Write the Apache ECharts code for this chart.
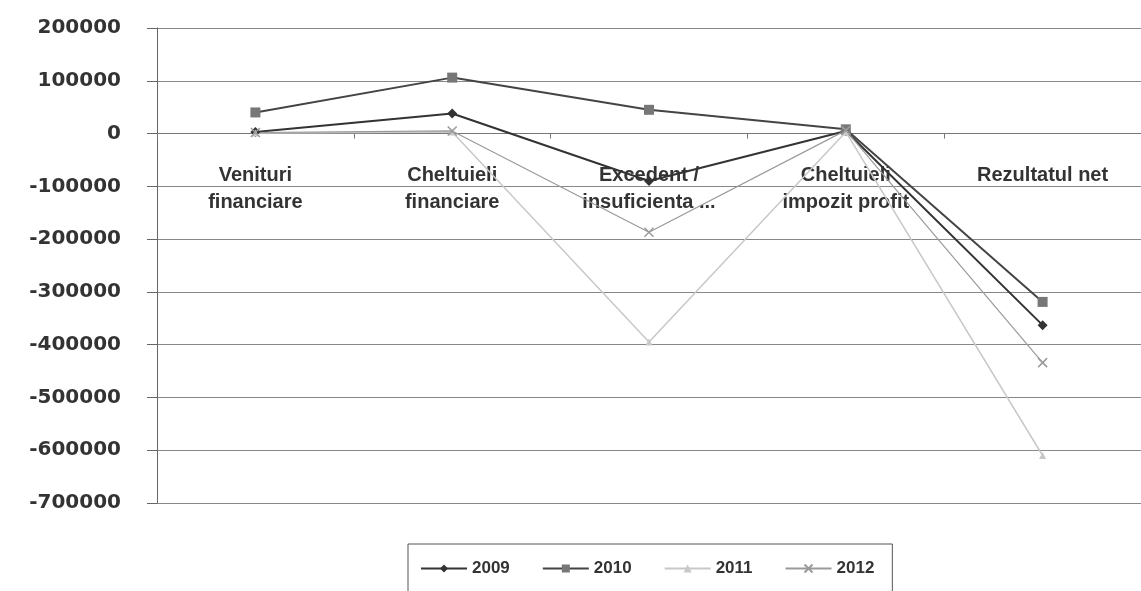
<!DOCTYPE html>
<html>
<head>
<meta charset="utf-8">
<script src="https://cdn.jsdelivr.net/npm/echarts@6/dist/echarts.min.js"></script>
<style>
  html, body { margin: 0; padding: 0; background: #fff; }
</style>
</head>
<body>
<div id="chart" style="width: 1141px; height: 591px;"></div>
<script>
const categories = ['Venituri\nfinanciare', 'Cheltuieli\nfinanciare', 'Excedent /\ninsuficienta ...', 'Cheltuieli\nimpozit profit', 'Rezultatul net'];
const years = ['2009', '2010', '2011', '2012'];
const values2009 = [3000, 38000, -90000, 5000, -363000];
const values2010 = [40000, 106000, 45000, 8000, -319000];
const values2011 = [1000, 3000, -395000, 3000, -610000];
const values2012 = [2000, 5000, -187000, 6000, -434000];

const chartDom = document.getElementById('chart');
const myChart = echarts.init(chartDom);

const labelFont = '"Liberation Sans Narrow", "Liberation Sans", Arial, sans-serif';
const gridTop = 28;
const gridBottom = 88;
const yMin = -700000;
const yMax = 200000;
// move the category axis up to the zero line
const plotHeight = 591 - gridTop - gridBottom;
const zeroOffset = -plotHeight * (0 - yMin) / (yMax - yMin);

const option = {
  animation: false,
  backgroundColor: '#fff',
  grid: {
    left: 157,
    right: -11,
    top: gridTop,
    bottom: gridBottom
  },
  legend: {
    bottom: -6,
    left: 408,
    itemWidth: 46,
    itemHeight: 10,
    itemGap: 32,
    padding: [16, 18, 20, 12],
    borderColor: '#555',
    borderWidth: 1,
    textStyle: {
      color: '#333',
      fontSize: 17,
      fontWeight: 'bold',
      fontFamily: labelFont
    },
    data: years
  },
  xAxis: {
    type: 'category',
    data: categories,
    position: 'bottom',
    offset: zeroOffset,
    axisLine: { onZero: false, lineStyle: { color: '#777', width: 1 } },
    axisTick: { show: true, length: 5, lineStyle: { color: '#777' } },
    axisLabel: {
      margin: 28,
      color: '#333',
      fontSize: 20,
      fontWeight: 'bold',
      lineHeight: 27,
      fontFamily: labelFont,
      interval: 0
    }
  },
  yAxis: {
    type: 'value',
    min: yMin,
    max: yMax,
    interval: 100000,
    axisLine: { show: true, lineStyle: { color: '#666', width: 1 } },
    axisTick: { show: true, length: 10, lineStyle: { color: '#666' } },
    axisLabel: {
      margin: 36,
      color: '#333',
      fontSize: 20,
      fontWeight: 'bold',
      fontFamily: '"DejaVu Sans", "Liberation Sans", Arial, sans-serif',
      formatter: v => String(v)
    },
    splitLine: { show: true, lineStyle: { color: '#888', width: 1 } }
  },
  series: [
    {
      name: '2009',
      type: 'line',
      data: values2009,
      symbol: 'diamond',
      symbolSize: 10,
      lineStyle: { color: '#333', width: 2 },
      itemStyle: { color: '#333' }
    },
    {
      name: '2010',
      type: 'line',
      data: values2010,
      symbol: 'rect',
      symbolSize: 10,
      lineStyle: { color: '#444', width: 2 },
      itemStyle: { color: '#777' }
    },
    {
      name: '2011',
      type: 'line',
      data: values2011,
      symbol: 'triangle',
      symbolSize: 7,
      lineStyle: { color: '#c8c8c8', width: 1.5 },
      itemStyle: { color: '#c8c8c8' }
    },
    {
      name: '2012',
      type: 'line',
      data: values2012,
      symbol: 'path://M0,0L10,10M10,0L0,10',
      symbolSize: 9,
      lineStyle: { color: '#9a9a9a', width: 1.2 },
      itemStyle: { color: 'none', borderColor: '#9a9a9a', borderWidth: 1.5 }
    }
  ]
};

myChart.setOption(option);
</script>
</body>
</html>
